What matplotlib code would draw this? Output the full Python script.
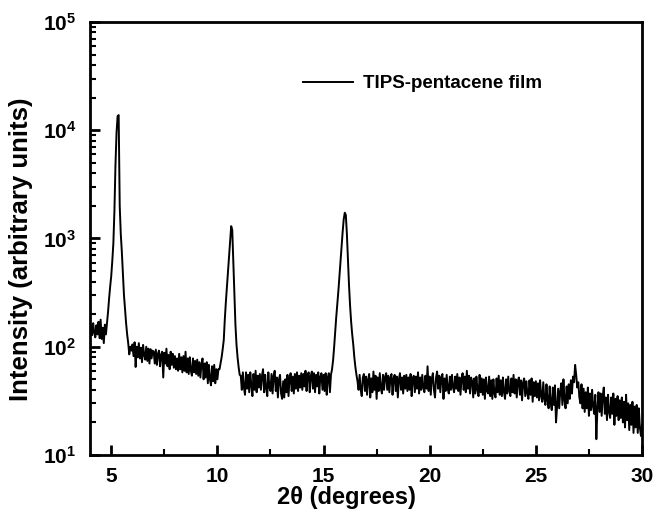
import numpy as np
import matplotlib
matplotlib.use("Agg")
import matplotlib.pyplot as plt
from matplotlib.ticker import FixedLocator, FixedFormatter, LogLocator, NullFormatter, MultipleLocator

plt.rcParams['font.family'] = ['Liberation Sans', 'DejaVu Sans']
plt.rcParams['font.weight'] = 'bold'
plt.rcParams['mathtext.fontset'] = 'custom'
plt.rcParams['mathtext.rm'] = 'Liberation Sans:bold'
plt.rcParams['mathtext.bf'] = 'Liberation Sans:bold'

# 2theta sampled every 0.05 degree from 4 to 30
two_theta_start = 4.0
two_theta_step = 0.05

# intensity, one row per degree (20 samples per row)
intensity_04 = [140, 158, 128, 165, 135, 122, 158, 130, 170, 120, 178, 118, 150, 108, 160, 130, 165, 210, 280, 360]
intensity_05 = [450, 620, 900, 1800, 4800, 9500, 13500, 13800, 2000, 1100, 750, 480, 300, 220, 165, 130, 108, 85, 100, 92]
intensity_06 = [105, 82, 110, 65, 100, 80, 108, 78, 98, 72, 104, 84, 76, 100, 74, 96, 70, 95, 78, 92]
intensity_07 = [90, 70, 94, 68, 86, 92, 66, 84, 90, 52, 88, 70, 96, 66, 84, 62, 90, 68, 86, 64]
intensity_08 = [82, 62, 78, 60, 86, 62, 80, 58, 82, 60, 90, 58, 78, 56, 80, 60, 54, 78, 58, 74]
intensity_09 = [56, 76, 54, 72, 52, 70, 78, 50, 70, 52, 72, 46, 68, 50, 44, 66, 48, 68, 46, 62]
intensity_10 = [50, 62, 62, 70, 80, 95, 115, 180, 260, 360, 500, 700, 950, 1300, 1200, 600, 280, 160, 105, 80]
intensity_11 = [65, 55, 54, 40, 58, 42, 36, 58, 41, 55, 38, 58, 44, 35, 56, 40, 60, 38, 54, 42]
intensity_12 = [56, 40, 54, 62, 38, 55, 41, 35, 58, 42, 39, 56, 37, 54, 60, 39, 52, 34, 50, 55]
intensity_13 = [37, 33, 48, 34, 50, 38, 55, 35, 51, 57, 39, 53, 37, 56, 41, 58, 39, 54, 42, 57]
intensity_14 = [40, 56, 43, 60, 39, 55, 58, 38, 54, 59, 41, 57, 38, 55, 43, 58, 37, 53, 57, 40]
intensity_15 = [55, 39, 57, 36, 52, 57, 38, 55, 62, 75, 100, 140, 190, 250, 330, 450, 620, 850, 1150, 1500]
intensity_16 = [1730, 1650, 1100, 650, 370, 240, 170, 130, 105, 80, 65, 55, 48, 40, 55, 40, 35, 52, 56, 39]
intensity_17 = [53, 36, 50, 56, 34, 51, 38, 59, 40, 54, 33, 52, 39, 57, 41, 37, 55, 40, 53, 57]
intensity_18 = [40, 54, 38, 52, 56, 36, 51, 55, 39, 53, 34, 50, 57, 40, 52, 37, 54, 41, 55, 39]
intensity_19 = [52, 40, 56, 35, 51, 54, 38, 53, 41, 58, 37, 52, 40, 55, 42, 38, 54, 41, 66, 39]
intensity_20 = [53, 36, 51, 57, 40, 34, 52, 59, 41, 54, 38, 52, 56, 33, 51, 39, 55, 41, 37, 53]
intensity_21 = [40, 55, 42, 38, 53, 41, 56, 39, 52, 36, 51, 57, 40, 53, 38, 60, 41, 54, 37, 52]
intensity_22 = [48, 34, 51, 37, 53, 40, 35, 55, 38, 51, 36, 50, 33, 52, 39, 37, 53, 35, 49, 33]
intensity_23 = [50, 37, 34, 51, 38, 54, 36, 49, 35, 52, 38, 33, 50, 37, 53, 39, 35, 51, 38, 55]
intensity_24 = [37, 50, 34, 48, 52, 36, 49, 32, 47, 51, 35, 48, 37, 33, 49, 36, 51, 31, 47, 35]
intensity_25 = [48, 34, 46, 32, 49, 35, 31, 47, 33, 29, 45, 32, 27, 43, 30, 26, 42, 29, 44, 20]
intensity_26 = [28, 41, 27, 39, 46, 29, 50, 32, 27, 43, 30, 45, 33, 49, 37, 53, 47, 68, 55, 42]
intensity_27 = [47, 34, 30, 45, 27, 41, 25, 38, 27, 42, 23, 37, 26, 40, 28, 24, 36, 14, 27, 38]
intensity_28 = [25, 37, 23, 35, 42, 24, 34, 21, 36, 25, 22, 34, 24, 37, 19, 33, 23, 35, 21, 32]
intensity_29 = [22, 34, 20, 31, 18, 36, 21, 30, 17, 29, 19, 31, 16, 28, 18, 29, 16, 27, 18, 15]
intensity_30 = [19]

intensity = np.array(intensity_04 + intensity_05 + intensity_06 + intensity_07 + intensity_08 +
                     intensity_09 + intensity_10 + intensity_11 + intensity_12 + intensity_13 +
                     intensity_14 + intensity_15 + intensity_16 + intensity_17 + intensity_18 +
                     intensity_19 + intensity_20 + intensity_21 + intensity_22 + intensity_23 +
                     intensity_24 + intensity_25 + intensity_26 + intensity_27 + intensity_28 +
                     intensity_29 + intensity_30, dtype=float)
two_theta = two_theta_start + two_theta_step * np.arange(len(intensity))

x_ticks = [5, 10, 15, 20, 25, 30]
x_tick_labels = ['5', '10', '15', '20', '25', '30']
y_ticks = [1e1, 1e2, 1e3, 1e4, 1e5]
y_tick_labels = [r'$\mathbf{10^{1}}$', r'$\mathbf{10^{2}}$', r'$\mathbf{10^{3}}$',
                 r'$\mathbf{10^{4}}$', r'$\mathbf{10^{5}}$']
series_label = 'TIPS-pentacene film'
x_label = '2\u03b8 (degrees)'
y_label = 'Intensity (arbitrary units)'

fig = plt.figure(figsize=(6.54, 5.19), dpi=100)
ax = fig.add_axes([90/654, 1 - 455/519, (642 - 90)/654, (455 - 22)/519])

ax.plot(two_theta, intensity, color='black', lw=1.4, label=series_label)
ax.set_yscale('log')
ax.set_xlim(4, 30)
ax.set_ylim(10, 1e5)

ax.xaxis.set_major_locator(FixedLocator(x_ticks))
ax.xaxis.set_major_formatter(FixedFormatter(x_tick_labels))
ax.xaxis.set_minor_locator(MultipleLocator(2.5))
ax.yaxis.set_major_locator(FixedLocator(y_ticks))
ax.yaxis.set_major_formatter(FixedFormatter(y_tick_labels))
ax.yaxis.set_minor_locator(LogLocator(base=10, subs=np.arange(2, 10)))
ax.yaxis.set_minor_formatter(NullFormatter())

for s in ax.spines.values():
    s.set_linewidth(2.0)
ax.tick_params(which='major', direction='in', length=7, width=2, labelsize=15,
               top=False, right=False)
ax.tick_params(axis='x', which='major', pad=9)
ax.tick_params(axis='y', which='major', pad=10)
ax.tick_params(which='minor', direction='in', length=4, width=1.5, top=False, right=False)

ax.set_xlabel(x_label, fontsize=17, fontweight='bold')
ax.set_ylabel(y_label, fontsize=18.5, fontweight='bold')
ax.xaxis.set_label_coords((346 - 90) / 552, (455 - 486) / 433)
ax.yaxis.set_label_coords((33 - 90) / 552, (455 - 249) / 433)

ax.legend(loc='center left', bbox_to_anchor=(0.386, 0.857), frameon=False,
          handlelength=2.67, handletextpad=0.53, borderpad=0, borderaxespad=0,
          prop={'weight': 'bold', 'size': 13.5})

fig.savefig('out.png', dpi=100)
